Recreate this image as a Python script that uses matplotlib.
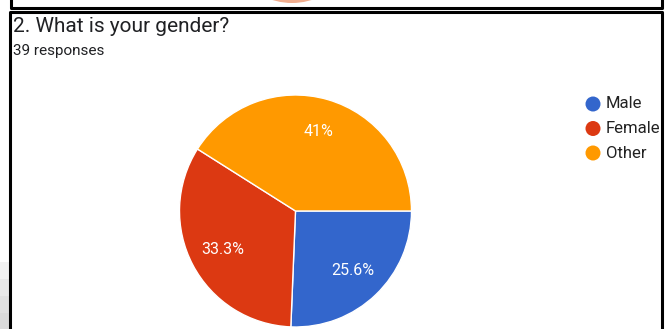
import matplotlib
matplotlib.use('Agg')
import matplotlib.pyplot as plt
from matplotlib.patches import Rectangle, Circle, Wedge
import numpy as np

W, H = 670, 329

labels = ['Male', 'Female', 'Other']
counts = [10, 13, 16]
colors = ['#3366cc', '#dc3912', '#ff9900']
question = '2. What is your gender?'
n_responses = 39


def px(x, y):
    # top-left pixel coords -> figure fraction
    return x / W, 1 - y / H


def fmt_pct(p):
    s = '{:.1f}'.format(p)
    return s[:-2] if s.endswith('.0') else s


def main():
    plt.rcParams['font.family'] = ['Roboto', 'DejaVu Sans']
    fig = plt.figure(figsize=(W / 100, H / 100), dpi=100)
    fig.patch.set_facecolor('white')

    # bits of the card above and the card frame
    bg = fig.add_axes([0, 0, 1, 1])
    bg.set_xlim(0, W)
    bg.set_ylim(H, 0)
    bg.axis('off')
    bg.add_patch(Wedge((292, -62), 65, 62, 118, color='#eb8a5e', alpha=0.7,
                       lw=0))
    bg.plot([11, 11, 662, 662], [-1, 7.5, 7.5, -1], color='black', lw=2.2)
    bg.plot([10, 10, 662, 662], [H + 2, 11.5, 11.5, H + 2], color='black',
            lw=2.2)
    for i, c in enumerate(['#f2f2f2', '#e8e8e8', '#e0e0e0', '#dadada']):
        bg.add_patch(Rectangle((0, 262 + i * 17), 8.5, 17, color=c, lw=0))

    fig.text(*px(13, 32), question, fontsize=15, color='#202124',
             va='baseline', ha='left')
    fig.text(*px(13, 55), '{} responses'.format(n_responses), fontsize=11,
             color='#202124', va='baseline', ha='left')

    # pie
    cx, cy, r = 295.5, 211, 116
    x0, y0 = px(cx - r, cy + r)
    ax = fig.add_axes([x0, y0, 2 * r / W, 2 * r / H])
    wedges, texts, autotexts = ax.pie(
        counts, colors=colors, startangle=0, counterclock=False,
        autopct=lambda p: fmt_pct(p) + '%', pctdistance=0.71,
        wedgeprops=dict(edgecolor='white', linewidth=1),
        textprops=dict(color='white', fontsize=11.5))
    ax.set_xlim(-1, 1)
    ax.set_ylim(-1, 1)
    ax.set_aspect('equal')

    # legend
    for i, (lab, c) in enumerate(zip(labels, colors)):
        ly = 104 + i * 24.5
        bg.add_patch(Circle((593, ly), 7.5, color=c, lw=0))
        bg.text(606, ly, lab, fontsize=12, color='#222222', va='center',
                ha='left')

    fig.savefig('out.png', dpi=100)


if __name__ == '__main__':
    main()
